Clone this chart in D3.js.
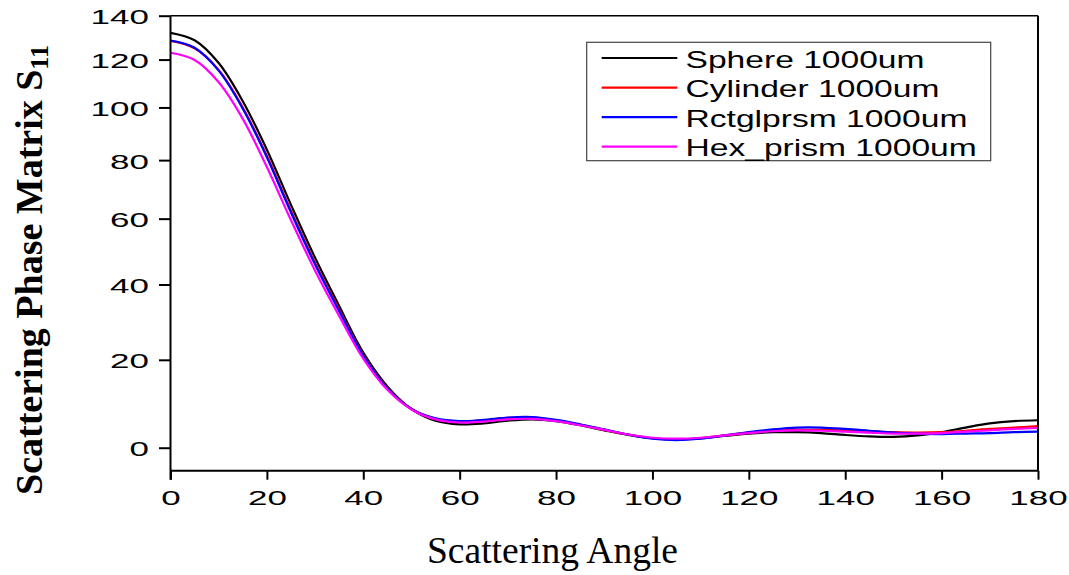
<!DOCTYPE html>
<html><head><meta charset="utf-8">
<script src="https://cdn.jsdelivr.net/npm/d3@7"></script>
<style>body{margin:0;background:#fff}svg{display:block}</style>
</head><body><svg id="c" width="1069" height="575"></svg>
<script>
// ---- data ----
const angles = [0,5,10,15,20,25,30,35,40,45,50,55,60,65,70,75,80,85,90,95,100,105,110,115,120,125,130,135,140,145,150,155,160,165,170,175,180];
const seriesNames = ["Sphere 1000um","Cylinder 1000um","Rctglprsm 1000um","Hex_prism 1000um"];
const sphere   = [132.0,128.6,118.5,102.5,83.8,64.5,47.8,34.0,21.8,13.6,8.4,5.8,5.0,5.2,5.8,6.1,5.7,4.8,3.7,2.7,2.0,1.8,2.0,2.5,3.0,3.3,3.3,3.1,2.7,2.4,2.3,2.6,3.3,4.3,5.2,5.7,5.9];
const cylinder = [128.3,125.0,115.5,100.0,81.6,62.6,46.3,33.0,21.2,13.2,8.4,6.2,5.6,5.9,6.4,6.5,5.9,4.9,3.8,2.8,2.0,1.7,2.0,2.6,3.2,3.6,3.8,3.8,3.7,3.5,3.3,3.2,3.3,3.6,4.0,4.3,4.6];
const rctgl    = [128.5,125.2,115.2,99.5,81.0,62.0,45.8,32.6,21.0,13.1,8.4,6.3,5.7,6.0,6.5,6.6,6.0,5.0,3.9,2.8,1.9,1.6,1.9,2.6,3.3,3.9,4.3,4.3,4.0,3.6,3.2,3.0,2.9,3.0,3.1,3.3,3.4];
const hexPrism = [123.0,119.8,110.3,95.5,77.5,59.5,44.0,31.3,20.3,12.8,8.3,6.1,5.4,5.6,6.1,6.2,5.7,4.8,3.8,2.8,2.1,1.9,2.1,2.6,3.1,3.5,3.7,3.6,3.4,3.2,3.0,3.0,3.1,3.4,3.7,4.0,4.2];
const xTicks = [0,20,40,60,80,100,120,140,160,180];
const xMinor = [10,30,50,70,90,110,130,150,170];
const yTicks = [0,20,40,60,80,100,120,140];
const yMinor = [10,30,50,70,90,110,130];
const colors = ["#000000","#ff0000","#0000ff","#ff00ff"];

// ---- layout ----
const L = 170.5, R = 1038, T = 15.7, B = 470.7;
const yOff = 110, yLo = -4.7, yHi = 140;
const svg = d3.select("#c");
svg.append("rect").attr("width",1069).attr("height",575).attr("fill","#fff");

const x = d3.scaleLinear().domain([0,180]).range([L,R]);
const yLog = d3.scaleLog().domain([yLo+yOff, yHi+yOff]).range([B,T]);
const y = v => yLog(v + yOff);

const series = [sphere, cylinder, rctgl, hexPrism];
const line = d3.line().x((d,i)=>x(angles[i])).y(d=>y(d)).curve(d3.curveCatmullRom.alpha(0.5));
series.forEach((s,k)=>{
  svg.append("path").datum(s).attr("d",line).attr("fill","none")
    .attr("stroke",colors[k]).attr("stroke-width",2.2);
});

// frame (top / right)
svg.append("line").attr("x1",L).attr("x2",R).attr("y1",T).attr("y2",T).attr("stroke","#000").attr("stroke-width",1.6);
svg.append("line").attr("x1",R).attr("x2",R).attr("y1",T).attr("y2",B).attr("stroke","#000").attr("stroke-width",2);

// x axis
const gx = svg.append("g").attr("transform",`translate(0,${B})`);
gx.call(d3.axisBottom(x).tickValues(xMinor).tickSize(4.5).tickFormat(""));
gx.call(d3.axisBottom(x).tickValues(xTicks).tickSize(9).tickFormat(d3.format("d")));
gx.selectAll(".domain").attr("stroke-width",2).attr("d",`M${L},0H${R}`);
gx.selectAll(".tick line").attr("stroke-width",2);
gx.selectAll(".tick text").attr("y",null).attr("dy",null)
  .attr("transform","translate(0,33.8) scale(1.75,1)")
  .attr("font-family","'Liberation Sans', Arial, sans-serif").attr("font-size",20).attr("fill","#000");

// y axis
const gy = svg.append("g").attr("transform",`translate(${L},0)`);
gy.call(d3.axisLeft(yLog).tickValues(yMinor.map(v=>v+yOff)).tickSize(6).tickFormat(""));
gy.call(d3.axisLeft(yLog).tickValues(yTicks.map(v=>v+yOff)).tickSize(11.5).tickFormat(d=>d3.format("d")(d-yOff)));
gy.selectAll(".domain").attr("stroke-width",2).attr("d",`M0,${T}V${B+9}`);
gy.selectAll(".tick line").attr("stroke-width",2);
gy.selectAll(".tick text").attr("x",null).attr("dy",null)
  .attr("transform","translate(-21.5,8) scale(1.75,1)")
  .attr("font-family","'Liberation Sans', Arial, sans-serif").attr("font-size",20).attr("fill","#000");

// axis titles
svg.append("text").attr("x",552.5).attr("y",563.3).attr("text-anchor","middle")
  .attr("font-family","'Liberation Serif','Times New Roman',serif").attr("font-size",37.5)
  .text("Scattering Angle");
const yt = svg.append("text").attr("transform","translate(42,270) rotate(-90)").attr("text-anchor","middle")
  .attr("font-family","'Liberation Serif','Times New Roman',serif").attr("font-size",38).attr("font-weight","bold");
yt.append("tspan").text("Scattering Phase Matrix S");
yt.append("tspan").attr("font-size",26).attr("dy",6).text("11");

// legend
const lg = svg.append("g");
lg.append("rect").attr("x",586.7).attr("y",42.3).attr("width",404).attr("height",118.4)
  .attr("fill","#fff").attr("stroke","#444").attr("stroke-width",1.2);
seriesNames.forEach((n,k)=>{
  const ry = 58 + k*29.55;
  lg.append("line").attr("x1",601.7).attr("x2",677.3).attr("y1",ry).attr("y2",ry)
    .attr("stroke",colors[k]).attr("stroke-width",2.2);
  lg.append("text").attr("transform",`translate(685.5,${ry+9.7}) scale(1.4,1)`)
    .attr("font-family","'Liberation Sans', Arial, sans-serif").attr("font-size",24).text(n);
});
</script></body></html>
